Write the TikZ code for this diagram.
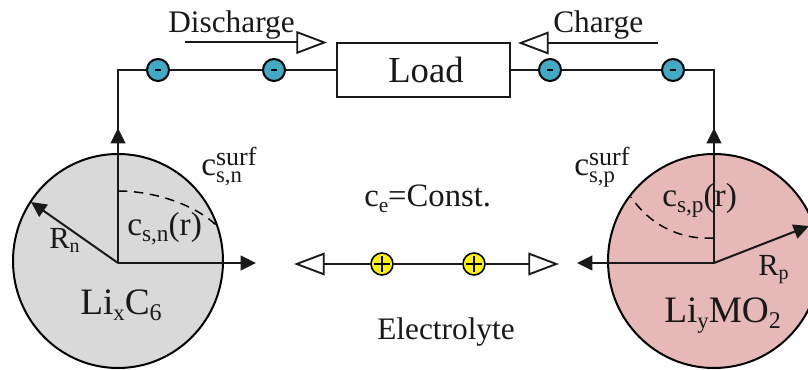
\documentclass[tikz,border=0pt]{standalone}
\usepackage{fontspec}
\setmainfont{Liberation Serif}
\usetikzlibrary{arrows.meta,shapes.geometric}
\newcommand{\fsz}[1]{\fontsize{#1}{#1}\selectfont}
\newcommand{\lowr}[2]{\raisebox{-#1pt}{#2}}
\newcommand{\surfc}[1]{{\fsz{25}c}\raisebox{8pt}{\rlap{\fsz{19.5}surf}}\raisebox{-5pt}{\fsz{17}#1}}
\tikzset{
  x=0.75pt,y=-0.75pt,
  wire/.style={draw=black!90,line width=1.5pt},
  axis/.style={wire,-{Triangle[length=11.5pt,width=11pt]}},
  opent/.style={wire,-{Triangle[open,fill=white,length=23pt,width=17pt,line width=1.4pt]}},
  electron/.style={circle,draw=black,line width=1.5pt,minimum size=16.5pt,inner sep=0pt,text=black},
  ion/.style={circle,draw=black,line width=1.2pt,fill=yellow,minimum size=16.5pt,inner sep=0pt},
  lbl/.style={anchor=base west,inner sep=0pt,text=black!90}
}
\definecolor{elec}{RGB}{67,170,197}
\definecolor{anode}{RGB}{217,217,217}
\definecolor{cathode}{RGB}{230,184,183}
\begin{document}
\begin{tikzpicture}
\useasboundingbox (0,0) rectangle (808,370);
\clip (0,0) rectangle (808,370);
% particles
\node[draw=black,line width=1.5pt,fill=anode,ellipse,minimum width=157.5pt,minimum height=160.5pt,inner sep=0pt] (pn) at (118,261) {};
\node[draw=black,line width=1.5pt,fill=cathode,ellipse,minimum width=159pt,minimum height=160.5pt,inner sep=0pt] (pp) at (714,261) {};
\coordinate (on) at (118,263);
\coordinate (op) at (714,263);
\coordinate (nx) at (256,263);
\coordinate (px) at (577,263);
\coordinate (ny) at (118,128);
\coordinate (py) at (714,128);
\coordinate (nr) at (31,202);
\coordinate (pr) at (809,226);
% load and wires
\coordinate (cl) at (118,70);
\coordinate (cr) at (714,70);
\node[draw=black!90,line width=1.5pt,minimum width=129.5pt,minimum height=41pt,inner sep=0pt,fill=white] (load) at (423.5,70) {};
\node[lbl,font=\fsz{27.5}] (loadt) at (388,83) {Load};
\node[electron,fill=elec] (e1) at (158,70) {};
\node[electron,fill=elec] (e2) at (274,70) {};
\node[electron,fill=elec] (e3) at (550,70) {};
\node[electron,fill=elec] (e4) at (673,70) {};
\draw[wire] (on) -- (cl) -- (e1);
\draw[wire] (e1) -- (e2);
\draw[wire] (e2) -- (load.west);
\draw[wire] (load.east) -- (e3);
\draw[wire] (e3) -- (e4);
\draw[wire] (e4) -- (cr) -- (op);
\draw[axis] (on) -- (ny);
\draw[axis] (op) -- (py);
\draw[axis] (on) -- (nx);
\draw[axis] (op) -- (px);
\draw[axis] (on) -- (nr);
\draw[axis] (op) -- (pr);
\foreach \n in {e1,e2,e3,e4}{\draw[line width=1.6pt] ([xshift=-2.5pt]\n.center) -- ([xshift=2.5pt]\n.center);}
% dashed profiles
\coordinate (dn1) at (118,191);
\coordinate (dn2) at (216,225);
\coordinate (dp1) at (714,238);
\coordinate (dp2) at (631,197);
\draw[line width=1.1pt,dash pattern=on 7pt off 5pt] (dn1) .. controls (155,191) and (195,205) .. (dn2);
\draw[line width=1.1pt,dash pattern=on 7pt off 5pt] (dp1) .. controls (680,240) and (650,225) .. (dp2);
% charge and discharge arrows
\coordinate (d1) at (185,42.5);
\coordinate (d2) at (327,42.5);
\coordinate (c1) at (658,43);
\coordinate (c2) at (518,43);
\draw[opent] (d1) -- (d2);
\draw[opent] (c1) -- (c2);
% electrolyte
\node[ion] (i1) at (382,264) {};
\node[ion] (i2) at (474,264) {};
\coordinate (il) at (294,264);
\coordinate (ir) at (559,264);
\draw[wire] (i1) -- (i2);
\draw[opent] (i1) -- (il);
\draw[opent] (i2) -- (ir);
\foreach \n in {i1,i2}{\draw[line width=.8pt] ([xshift=-6pt]\n.center) -- ([xshift=6pt]\n.center) ([yshift=-6pt]\n.center) -- ([yshift=6pt]\n.center);}
% labels
\node[lbl,font=\fsz{23.5}] (tdis) at (168,33) {Discharge};
\node[lbl,font=\fsz{23.5}] (tchg) at (553,33) {Charge};
\node[lbl,font=\fsz{23.5}] (telec) at (377,340) {Electrolyte};
\node[lbl,font=\fsz{24.5}] (tce) at (364,207) {c\lowr{4}{\fsz{16}e}=Const.};
\node[lbl,font=\fsz{28}] (tan) at (80,315) {Li\lowr{4}{\fsz{17}x}C\lowr{4}{\fsz{18}6}};
\node[lbl,font=\fsz{28}] (tca) at (664,323) {Li\lowr{4}{\fsz{17}y}MO\lowr{4}{\fsz{18}2}};
\node[lbl,font=\fsz{23}] (trn) at (49,249) {R\lowr{3}{\fsz{15}n}};
\node[lbl,font=\fsz{23}] (trp) at (758,276) {R\lowr{3}{\fsz{15}p}};
\node[lbl,font=\fsz{25}] (tcn) at (127,236) {c\lowr{4}{\fsz{17.5}s,n}(r)};
\node[lbl,font=\fsz{25}] (tcp) at (662,207) {c\lowr{4}{\fsz{17.5}s,p}(r)};
\node[lbl,font=\fsz{25}] (tsn) at (201,176) {\surfc{s,n}};
\node[lbl,font=\fsz{25}] (tsp) at (574,176) {\surfc{s,p}};
\end{tikzpicture}
\end{document}
